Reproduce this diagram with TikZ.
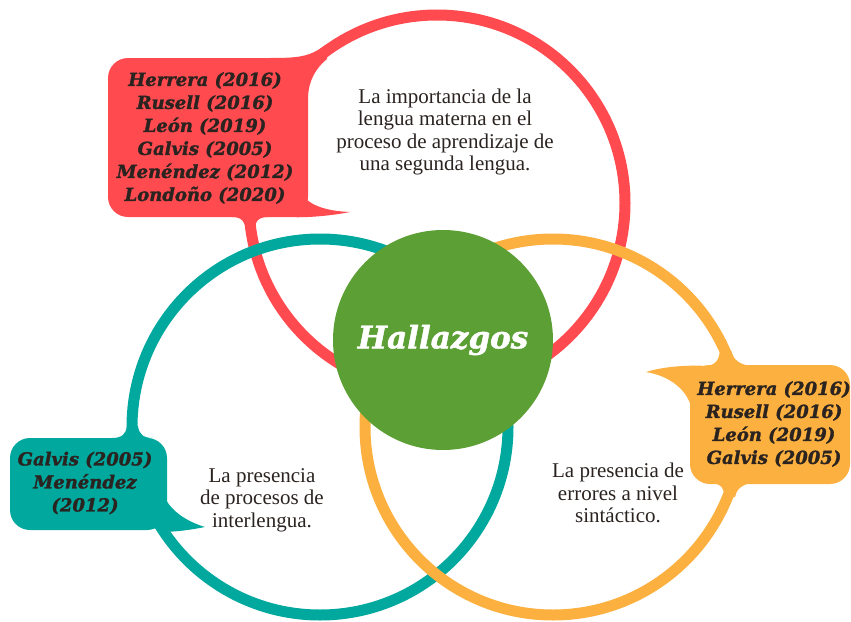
\documentclass[tikz,border=0pt]{standalone}
\usepackage{fontspec}
\setmainfont{Liberation Serif}
\newfontfamily\citefont{DejaVu Serif}[BoldItalicFeatures={FakeBold=1.5}]
\usetikzlibrary{positioning}

\definecolor{ringred}{HTML}{FF4B50}
\definecolor{ringteal}{HTML}{00A89D}
\definecolor{ringorange}{HTML}{FBB040}
\definecolor{hubgreen}{HTML}{5B9F35}
\definecolor{inktext}{HTML}{2A2320}

\tikzset{
  ring/.style={line width=11pt},
  cite/.style={font=\citefont\bfseries\itshape\fontsize{18}{23}\selectfont, align=center, text=inktext},
  body/.style={font=\fontsize{21}{22.5}\selectfont, align=center, text=inktext},
  bubble/.style={rounded corners=20pt}
}

\begin{document}
\begin{tikzpicture}[x=1pt, y=-1pt]
  \useasboundingbox (0,0) rectangle (851,621);
  % Rings
  \draw[ring, ringred] (437,203) circle (188pt);
  \draw[ring, ringteal] (320,427) circle (188pt);
  \draw[ring, ringorange] (553,427) circle (188pt);
  % Centre
  \node[circle, fill=hubgreen, minimum size=220pt, inner sep=0pt,
        font=\citefont\bfseries\itshape\fontsize{31}{31}\selectfont, text=white] (hub) at (443,340) {Hallazgos};
  % Red bubble with tails
  \fill[ringred, bubble] (108,58) rectangle (308,217);
  \fill[ringred] (270,58) .. controls (295,58) and (306,57) .. (318,50) -- (327,44) -- (327,59)
    .. controls (316,68) and (309,80) .. (308,96) -- (280,80) -- cycle;
  \fill[ringred] (232,217) .. controls (242,217) and (245,222) .. (246,230) -- (254,230)
    .. controls (255,222) and (258,217) .. (268,217) -- cycle;
  \fill[ringred] (300,192) .. controls (308,205) and (325,211) .. (350,212)
    .. controls (330,216) and (305,218) .. (288,217) -- cycle;
  % Orange bubble with tails
  \fill[ringorange, bubble] (690,365) rectangle (850,484);
  \fill[ringorange] (708,366) -- (692,410) .. controls (688,390) and (670,376) .. (646,372)
    .. controls (665,366) and (690,365) .. (708,366) -- cycle;
  \fill[ringorange] (706,366) .. controls (716,365) and (719,360) .. (720,350) -- (731,350)
    .. controls (733,360) and (740,365) .. (752,366) -- cycle;
  \fill[ringorange] (712,483) .. controls (722,484) and (725,490) .. (724,497) -- (735,497)
    .. controls (736,490) and (742,484) .. (752,483) -- cycle;
  % Teal bubble with tails
  \fill[ringteal, bubble] (10,438) rectangle (167,530);
  \fill[ringteal] (165,498) .. controls (172,512) and (188,522) .. (205,527)
    .. controls (190,530) and (175,532) .. (160,532) -- cycle;
  \fill[ringteal] (112,438) .. controls (122,438) and (126,434) .. (127,426) -- (138,426)
    .. controls (139,434) and (143,438) .. (153,438) -- cycle;
  % References
  \node[cite] (redrefs) at (205,138) {Herrera (2016)\\Rusell (2016)\\León (2019)\\Galvis (2005)\\Menéndez (2012)\\Londoño (2020)};
  \node[cite] (orangerefs) at (774,424) {Herrera (2016)\\Rusell (2016)\\León (2019)\\Galvis (2005)};
  \node[cite] (tealrefs) at (85,483) {Galvis (2005)\\Menéndez\\(2012)};
  % Findings
  \node[body] (redtxt) at (445,132) {La importancia de la\\lengua materna en el\\proceso de aprendizaje de\\una segunda lengua.};
  \node[body] (tealtxt) at (262,500) {La presencia\\de procesos de\\interlengua.};
  \node[body] (orangetxt) at (618,493) {La presencia de\\errores a nivel\\sintáctico.};
\end{tikzpicture}
\end{document}
